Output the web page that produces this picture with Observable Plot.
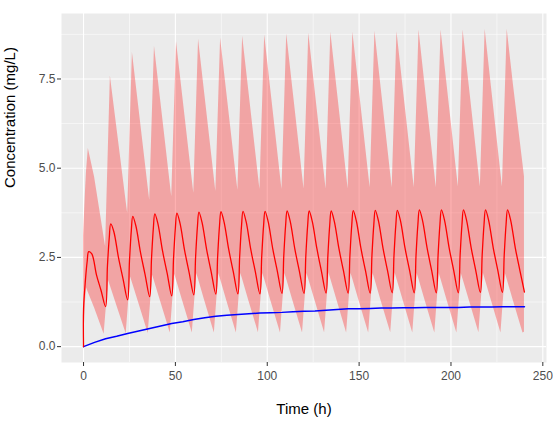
<!DOCTYPE html>
<html>
<head>
<meta charset="utf-8">
<script src="https://cdn.jsdelivr.net/npm/d3@7"></script>
<script src="https://cdn.jsdelivr.net/npm/@observablehq/plot@0.6"></script>
<style>
  html, body { margin: 0; padding: 0; background: #ffffff; }
</style>
</head>
<body>
<div id="chart"></div>
<script>
// Dosing every 12 h over 240 h
const doseTimes = [0, 12, 24, 36, 48, 60, 72, 84, 96, 108, 120, 132, 144, 156, 168, 180, 192, 204, 216, 228];
const endTime = 240;

// Prediction interval (ribbon): hours after each dose, and bounds per dosing interval
const ribbonOffsets = [0, 1, 1.6, 2.6, 6, 11.2];
const upperRows = [
  [3.10, 4.30, 4.90, 5.55, 4.75, 3.06],
  [2.80, 4.64, 5.74, 7.58, 6.19, 4.06],
  [3.74, 5.47, 6.51, 8.24, 6.74, 4.45],
  [4.10, 5.76, 6.76, 8.42, 6.89, 4.56],
  [4.20, 5.87, 6.87, 8.54, 7.01, 4.66],
  [4.30, 5.96, 6.95, 8.61, 7.07, 4.71],
  [4.35, 6.00, 6.99, 8.64, 7.10, 4.74],
  [4.38, 6.04, 7.04, 8.70, 7.15, 4.77],
  [4.40, 6.07, 7.06, 8.73, 7.16, 4.77],
  [4.40, 6.08, 7.08, 8.76, 7.19, 4.79],
  [4.42, 6.10, 7.10, 8.78, 7.20, 4.79],
  [4.42, 6.11, 7.12, 8.81, 7.22, 4.80],
  [4.42, 6.11, 7.12, 8.81, 7.23, 4.82],
  [4.45, 6.14, 7.15, 8.84, 7.25, 4.82],
  [4.45, 6.13, 7.14, 8.82, 7.24, 4.82],
  [4.45, 6.15, 7.17, 8.87, 7.27, 4.83],
  [4.45, 6.15, 7.17, 8.87, 7.28, 4.85],
  [4.47, 6.16, 7.18, 8.87, 7.28, 4.85],
  [4.47, 6.17, 7.19, 8.89, 7.29, 4.85],
  [4.47, 6.17, 7.19, 8.89, 7.34, 5.11]
];
const lowerRows = [
  [0.00, 1.20, 1.65, 1.52, 1.08, 0.35],
  [0.85, 1.48, 1.85, 1.70, 1.17, 0.36],
  [0.89, 1.55, 1.95, 1.79, 1.23, 0.37],
  [0.91, 1.59, 2.00, 1.83, 1.26, 0.38],
  [0.92, 1.61, 2.03, 1.86, 1.27, 0.38],
  [0.94, 1.63, 2.05, 1.88, 1.28, 0.38],
  [0.94, 1.63, 2.05, 1.88, 1.28, 0.38],
  [0.94, 1.63, 2.05, 1.88, 1.28, 0.39],
  [0.95, 1.64, 2.05, 1.88, 1.28, 0.38],
  [0.94, 1.63, 2.05, 1.88, 1.28, 0.38],
  [0.94, 1.63, 2.05, 1.88, 1.29, 0.39],
  [0.95, 1.64, 2.06, 1.89, 1.29, 0.38],
  [0.94, 1.63, 2.05, 1.88, 1.28, 0.38],
  [0.94, 1.63, 2.05, 1.88, 1.28, 0.39],
  [0.95, 1.64, 2.06, 1.89, 1.29, 0.38],
  [0.94, 1.63, 2.05, 1.88, 1.28, 0.38],
  [0.94, 1.63, 2.05, 1.88, 1.28, 0.38],
  [0.94, 1.63, 2.05, 1.88, 1.29, 0.39],
  [0.95, 1.64, 2.06, 1.89, 1.29, 0.38],
  [0.94, 1.63, 2.05, 1.88, 1.28, 0.38]
];
const upperEnd = 4.76;
const lowerEnd = 0.40;

// Median concentration: hours after each dose, and values per dosing interval
const medianOffsets = [0, 1, 2, 2.8, 4.5, 7, 9.5];
const medianRows = [
  [1.05, 1.85, 2.40, 2.66, 2.60, 2.02, 1.58],
  [1.12, 2.25, 3.05, 3.44, 3.22, 2.50, 1.90],
  [1.31, 2.40, 3.25, 3.65, 3.38, 2.64, 2.02],
  [1.40, 2.47, 3.32, 3.72, 3.44, 2.68, 2.06],
  [1.42, 2.49, 3.34, 3.74, 3.46, 2.70, 2.07],
  [1.45, 2.52, 3.37, 3.77, 3.48, 2.72, 2.09],
  [1.47, 2.53, 3.38, 3.78, 3.49, 2.73, 2.10],
  [1.48, 2.54, 3.39, 3.79, 3.50, 2.73, 2.10],
  [1.48, 2.54, 3.39, 3.79, 3.50, 2.74, 2.11],
  [1.49, 2.55, 3.40, 3.80, 3.51, 2.74, 2.11],
  [1.49, 2.55, 3.40, 3.80, 3.51, 2.75, 2.11],
  [1.50, 2.55, 3.40, 3.80, 3.51, 2.75, 2.12],
  [1.50, 2.56, 3.41, 3.81, 3.52, 2.75, 2.12],
  [1.50, 2.57, 3.42, 3.82, 3.53, 2.76, 2.12],
  [1.51, 2.57, 3.42, 3.82, 3.53, 2.76, 2.13],
  [1.51, 2.58, 3.43, 3.83, 3.54, 2.77, 2.13],
  [1.51, 2.58, 3.43, 3.83, 3.54, 2.77, 2.13],
  [1.51, 2.58, 3.43, 3.83, 3.54, 2.77, 2.13],
  [1.52, 2.58, 3.43, 3.83, 3.54, 2.77, 2.14],
  [1.52, 2.58, 3.43, 3.83, 3.54, 2.77, 2.14]
];
const medianStart = 0;
const medianEnd = 1.53;

// Slowly accumulating second profile (blue)
const blueTimes = [0, 6, 12, 18, 24, 30, 36, 42, 48, 54, 60, 66, 72, 78, 84, 90, 96, 102, 108, 114, 120,
  126, 132, 138, 144, 150, 156, 162, 168, 174, 180, 186, 192, 198, 204, 210, 216, 222, 228, 234, 240];
const blueValues = [0.00, 0.12, 0.22, 0.29, 0.37, 0.44, 0.51, 0.58, 0.65, 0.70, 0.76, 0.81, 0.85, 0.88, 0.90, 0.92, 0.94, 0.95, 0.96, 0.98, 0.99,
  1.00, 1.02, 1.04, 1.06, 1.06, 1.07, 1.08, 1.08, 1.09, 1.09, 1.10, 1.10, 1.10, 1.10, 1.11, 1.11, 1.11, 1.12, 1.12, 1.12];

// Axis ticks and grid
const xTicks = [0, 50, 100, 150, 200, 250];
const xMinor = [25, 75, 125, 175, 225];
const yTicks = [0, 2.5, 5, 7.5];
const yMinor = [1.25, 3.75, 6.25, 8.75];

// Assemble tables for the marks
const ribbon = [];
doseTimes.forEach((t0, i) => {
  ribbonOffsets.forEach((dt, j) => {
    ribbon.push({time: t0 + dt, lower: lowerRows[i][j], upper: upperRows[i][j]});
  });
});
ribbon.push({time: endTime, lower: lowerEnd, upper: upperEnd});

const median = [{time: doseTimes[0], value: medianStart}];
doseTimes.forEach((t0, i) => {
  medianOffsets.forEach((dt, j) => {
    median.push({time: t0 + dt, value: medianRows[i][j]});
  });
});
median.push({time: endTime, value: medianEnd});

const blue = blueTimes.map((t, i) => ({time: t, value: blueValues[i]}));

const chart = Plot.plot({
  width: 553,
  height: 423,
  marginLeft: 61,
  marginRight: 7,
  marginTop: 13,
  marginBottom: 61,
  style: {fontFamily: "'Liberation Sans', Arial, sans-serif", background: "#ffffff"},
  x: {domain: [-12, 252]},
  y: {domain: [-0.4445, 9.3345]},
  marks: [
    Plot.frame({fill: "#EBEBEB", stroke: null}),
    Plot.ruleX(xMinor, {stroke: "#ffffff", strokeWidth: 0.55}),
    Plot.ruleY(yMinor, {stroke: "#ffffff", strokeWidth: 0.55}),
    Plot.ruleX(xTicks, {stroke: "#ffffff", strokeWidth: 1.1}),
    Plot.ruleY(yTicks, {stroke: "#ffffff", strokeWidth: 1.1}),
    Plot.areaY(ribbon, {x: "time", y1: "lower", y2: "upper", fill: "#ff0000", fillOpacity: 0.3, curve: "linear"}),
    Plot.line(blue, {x: "time", y: "value", stroke: "#0000ff", strokeWidth: 1.5, curve: "linear"}),
    Plot.line(median, {x: "time", y: "value", stroke: "#ff0000", strokeWidth: 1.3, curve: "catmull-rom"}),
    Plot.axisX(xTicks, {tickSize: 4, tickPadding: 5, stroke: "#333333", fill: "#4D4D4D", fontSize: 12, label: null}),
    Plot.axisY(yTicks, {tickSize: 4, tickPadding: 2, stroke: "#333333", fill: "#4D4D4D", fontSize: 12, label: null, tickFormat: d3.format(".1f")}),
    Plot.text(["Time (h)"], {frameAnchor: "bottom", dy: 51, fontSize: 15, fill: "#000000"}),
    Plot.text(["Concentration (mg/L)"], {frameAnchor: "left", dx: -51, rotate: -90, fontSize: 15, fill: "#000000"})
  ]
});

document.getElementById("chart").appendChild(chart);
</script>
</body>
</html>
